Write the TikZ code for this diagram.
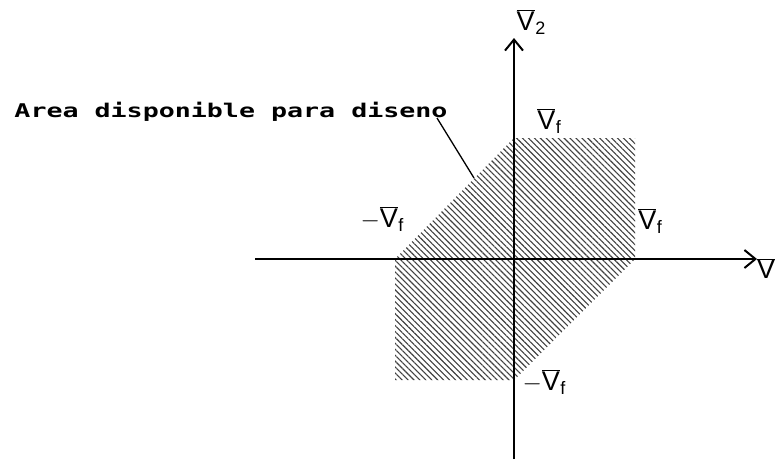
\documentclass[tikz,border=0pt]{standalone}
\usepackage{fontspec}
\setmainfont{Liberation Sans}
\newfontfamily\monob{DejaVu Sans Mono}
\usetikzlibrary{arrows.meta,patterns.meta}
\newcommand{\vlab}[2]{{\fontsize{27}{27}\selectfont #1$\overline{\hbox{V}}$\kern0.5pt\raisebox{-4pt}{\fontsize{18}{18}\selectfont #2}}}
\tikzset{
  axis/.style={line width=2pt,-{Straight Barb[length=11pt,width=18pt,line width=2pt]}},
  lab/.style={inner sep=0pt},
  area/.style={pattern={Lines[angle=135,distance=4.2pt,line width=1.1pt]},pattern color=black!75},
}
\begin{document}
\begin{tikzpicture}[x=1pt,y=-1pt]
\useasboundingbox (0,0) rectangle (776,459);
\coordinate (o) at (514,259);
\coordinate (xs) at (255,259);
\coordinate (xe) at (757,259);
\coordinate (ys) at (514,459);
\coordinate (ye) at (514,38);
% hatched area
\fill[area] (395,259) -- (514,138) -- (635,138) -- (635,259) -- (514,380) -- (395,380) -- cycle;
% axes
\draw[axis] (xs) -- (xe);
\draw[axis] (ys) -- (ye);
% labels
\node[lab] (v2) at (531,22) {\vlab{}{2}};
\node[lab] (vft) at (549,121) {\vlab{}{f}};
\node[lab] (vfl) at (382,219) {\vlab{$-$}{f}};
\node[lab] (vfr) at (650,221) {\vlab{}{f}};
\node[lab] (vfb) at (544,382) {\vlab{$-$}{f}};
\node[lab,anchor=north west] (v1) at (757,258) {{\fontsize{27}{27}\selectfont$\overline{\hbox{V}}$}};
\node[inner sep=0pt,anchor=base] (txt) at (231,117) {\scalebox{1.48}[1.05]{\monob\bfseries\fontsize{18}{18}\selectfont Area disponible para diseno}};
\coordinate (lead) at (474,178);
\draw[line width=1.3pt] (437,118) -- (lead);
\end{tikzpicture}
\end{document}
